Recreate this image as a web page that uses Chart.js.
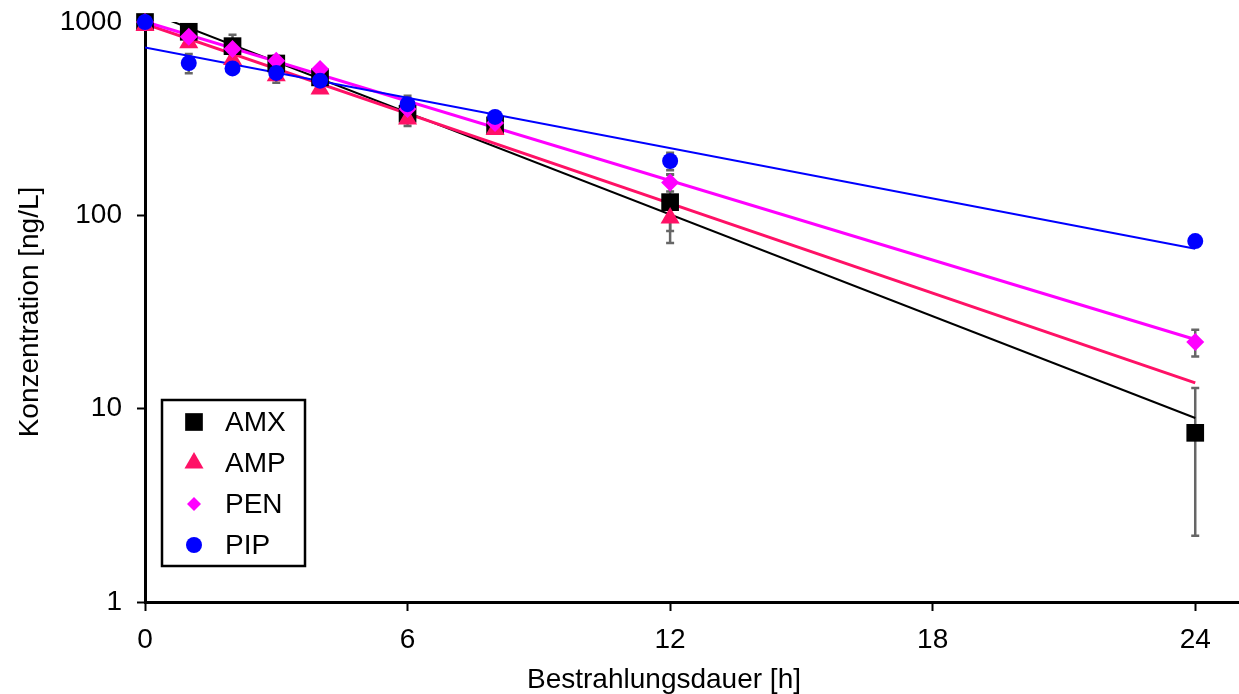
<!DOCTYPE html>
<html>
<head>
<meta charset="utf-8">
<script src="https://cdn.jsdelivr.net/npm/chart.js@4"></script>
<style>
  html, body { margin: 0; background: #fff; overflow: hidden; }
  .chart-box { width: 1239px; height: 694px; }
</style>
</head>
<body>
<div class="chart-box"><canvas id="decayChart"></canvas></div>
<script>
// sampling times [h]
const times = [0, 1, 2, 3, 4, 6, 8, 12, 24];

// measured concentrations [ng/L] and their standard deviations
const amxValues = [1000, 890, 750, 610, 517, 335, 292, 117, 7.5];
const amxErrors = [0, 40, 110, 60, 30, 45, 20, 45, 5.3];
const ampValues = [960, 780, 640, 527, 450, 315, 278, 97, null];
const ampErrors = [0, 20, 30, 20, 15, 15, 10, 14, null];
const penValues = [1000, 840, 725, 630, 571, 355, 300, 148, 22.1];
const penErrors = [0, 30, 40, 30, 20, 20, 15, 15, 3.5];
const pipValues = [1000, 613, 575, 545, 497, 376, 323, 191, 73.6];
const pipErrors = [0, 70, 30, 60, 20, 40, 15, 20, 3];

// first-order fits, evaluated at the ends of the time range
const fitTimes = [0, 24];
const amxFit = [1141, 8.95];
const ampFit = [977, 13.6];
const penFit = [1004, 22.8];
const pipFit = [739, 67.2];

const xTicks = [0, 6, 12, 18, 24];
const yTicks = [1, 10, 100, 1000];
const xTitle = "Bestrahlungsdauer [h]";

const FONT = "'Liberation Sans', Arial, sans-serif";

const series = [
  { label: "AMX", values: amxValues, errors: amxErrors, fit: amxFit, color: "#000000", style: "rect", radius: 12.5, lineWidth: 2, order: 4 },
  { label: "AMP", values: ampValues, errors: ampErrors, fit: ampFit, color: "#ff1166", style: "triangle", radius: 11, lineWidth: 3, order: 3 },
  { label: "PEN", values: penValues, errors: penErrors, fit: penFit, color: "#ff00ff", style: "rectRot", radius: 9, lineWidth: 3, order: 2 },
  { label: "PIP", values: pipValues, errors: pipErrors, fit: pipFit, color: "#0000ff", style: "circle", radius: 8, lineWidth: 2, order: 1 },
];

const toPoints = (xs, ys) =>
  xs.map((x, i) => ({ x: x, y: ys[i] })).filter((p) => p.y != null);

const datasets = [];
series.forEach((s) => {
  datasets.push({
    label: s.label,
    data: toPoints(times, s.values),
    showLine: false,
    pointStyle: s.style,
    pointRadius: s.radius,
    pointBackgroundColor: s.color,
    pointBorderWidth: 0,
    clip: false,
    order: s.order,
  });
  datasets.push({
    label: s.label + " fit",
    data: toPoints(fitTimes, s.fit),
    showLine: true,
    borderColor: s.color,
    borderWidth: s.lineWidth,
    pointRadius: 0,
    order: s.order + 10,
  });
});

const errorBars = {
  id: "errorBars",
  beforeDatasetsDraw(chart) {
    const { ctx, scales } = chart;
    ctx.save();
    ctx.strokeStyle = "#666666";
    ctx.lineWidth = 2.5;
    series.forEach((s) => {
      s.values.forEach((v, i) => {
        const e = s.errors[i];
        if (v == null || !e) return;
        const px = scales.x.getPixelForValue(times[i]);
        const top = scales.y.getPixelForValue(v + e);
        const bottom = scales.y.getPixelForValue(Math.max(v - e, 1));
        ctx.beginPath();
        ctx.moveTo(px, top);
        ctx.lineTo(px, bottom);
        ctx.moveTo(px - 4, top);
        ctx.lineTo(px + 4, top);
        ctx.moveTo(px - 4, bottom);
        ctx.lineTo(px + 4, bottom);
        ctx.stroke();
      });
    });
    ctx.restore();
  },
};

// boxed legend in the lower left of the plot, plus the x axis title
const boxLegend = {
  id: "boxLegend",
  afterDraw(chart) {
    const { ctx, chartArea } = chart;
    const left = chartArea.left + 17;
    const top = 400;
    ctx.save();
    ctx.fillStyle = "#fff";
    ctx.fillRect(left, top, 143, 166);
    ctx.strokeStyle = "#000";
    ctx.lineWidth = 2.5;
    ctx.strokeRect(left, top, 143, 166);
    ctx.font = "28px " + FONT;
    ctx.textBaseline = "middle";
    series.forEach((s, i) => {
      const y = top + 22 + i * 41;
      ctx.fillStyle = s.color;
      const r = s.style === "rectRot" ? 7 : s.radius;
      Chart.helpers.drawPoint(ctx, { pointStyle: s.style, radius: r, borderWidth: 0 }, left + 32, y);
      ctx.fillStyle = "#000";
      ctx.fillText(s.label, left + 63, y + 1);
    });
    ctx.textAlign = "center";
    ctx.fillText(xTitle, 664, 680);
    ctx.restore();
  },
};

Chart.defaults.font.family = FONT;
Chart.defaults.font.size = 28;
Chart.defaults.color = "#000";

new Chart(document.getElementById("decayChart"), {
  type: "scatter",
  data: { datasets: datasets },
  plugins: [errorBars, boxLegend],
  options: {
    responsive: true,
    maintainAspectRatio: false,
    animation: false,
    events: [],
    layout: { autoPadding: false, padding: { top: 22, right: 0, bottom: 0, left: 0 } },
    plugins: {
      legend: { display: false },
      tooltip: { enabled: false },
    },
    scales: {
      x: {
        type: "linear",
        min: 0,
        max: 25,
        afterBuildTicks: (scale) => {
          scale.ticks = xTicks.map((v) => ({ value: v }));
        },
        afterFit: (scale) => {
          scale.height = 92;
          scale.paddingLeft = 0;
          scale.paddingRight = 0;
        },
        ticks: { padding: 12, maxRotation: 0 },
        grid: { drawOnChartArea: false, tickLength: 9, tickWidth: 2, tickColor: "#000" },
        border: { color: "#000", width: 3 },
      },
      y: {
        type: "logarithmic",
        min: 1,
        max: 1000,
        afterBuildTicks: (scale) => {
          scale.ticks = yTicks.map((v) => ({ value: v }));
        },
        afterFit: (scale) => {
          scale.width = 145;
          scale.paddingTop = 0;
          scale.paddingBottom = 0;
        },
        ticks: { padding: 15, callback: (v) => String(v) },
        grid: { drawOnChartArea: false, tickLength: 8, tickWidth: 2, tickColor: "#000" },
        border: { color: "#000", width: 3 },
        title: { display: true, text: "Konzentration [ng/L]", padding: { top: 13, bottom: 0 } },
      },
    },
  },
});
</script>
</body>
</html>
